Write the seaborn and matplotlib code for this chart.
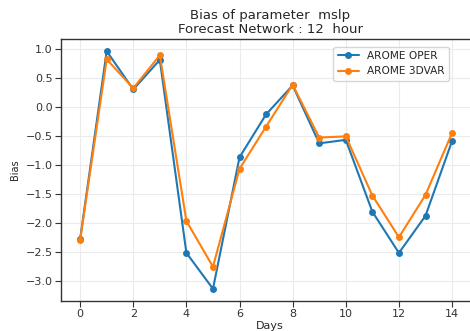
import numpy as np
import pandas as pd
import matplotlib
matplotlib.use("Agg")
import matplotlib.pyplot as plt
import seaborn as sns

days = list(range(15))
arome_oper = [-2.28, 0.96, 0.30, 0.81, -2.52, -3.14, -0.87, -0.13, 0.37, -0.63, -0.57,
              -1.81, -2.52, -1.88, -0.59]
arome_3dvar = [-2.30, 0.82, 0.32, 0.89, -1.97, -2.76, -1.07, -0.34, 0.38, -0.53, -0.51,
               -1.53, -2.25, -1.52, -0.45]
series_names = ["AROME OPER", "AROME 3DVAR"]

df = pd.DataFrame({
    "Days": days * 2,
    "Bias": arome_oper + arome_3dvar,
    "Experiment": [series_names[0]] * len(days) + [series_names[1]] * len(days),
})

sns.set_style("whitegrid", {
    "axes.edgecolor": "#333333",
    "grid.color": "#ebebeb",
    "xtick.bottom": True,
    "ytick.left": True,
})
plt.rcParams["font.family"] = ["DejaVu Sans"]

fig = plt.figure(figsize=(4.70, 3.31), dpi=100)
ax = fig.add_axes([61 / 470, 30 / 331, 1.02 - 61 / 470, (301 - 39) / 331])

sns.lineplot(data=df, x="Days", y="Bias", hue="Experiment", hue_order=series_names,
             palette=["#1f77b4", "#ff7f0e"], marker="o", markersize=5,
             markeredgewidth=0, linewidth=1.5, ax=ax)

ax.set_xticks([0, 2, 4, 6, 8, 10, 12, 14])
ax.set_yticks([-3.0, -2.5, -2.0, -1.5, -1.0, -0.5, 0.0, 0.5, 1.0])
ax.set_xlim(-0.72, 14.72 + 0.02 * 15.44)
ax.set_ylim(-3.35, 1.17)
ax.tick_params(axis="both", labelsize=8, colors="#333333", length=4, width=0.8, pad=2)
ax.set_xlabel("Days", fontsize=8, labelpad=1)
ax.set_ylabel("Bias", fontsize=7, labelpad=4)
ax.set_title("Bias of parameter  mslp\nForecast Network : 12  hour", fontsize=9.5,
             linespacing=1.1, pad=4)
for s in ax.spines.values():
    s.set_linewidth(1.0)

leg = ax.legend(loc="upper right", bbox_to_anchor=(0.94, 0.99), fontsize=7.6, frameon=True,
                handlelength=2.0, borderpad=0.4)
leg.get_frame().set_edgecolor("#cccccc")

fig.savefig("out.png", dpi=100)
